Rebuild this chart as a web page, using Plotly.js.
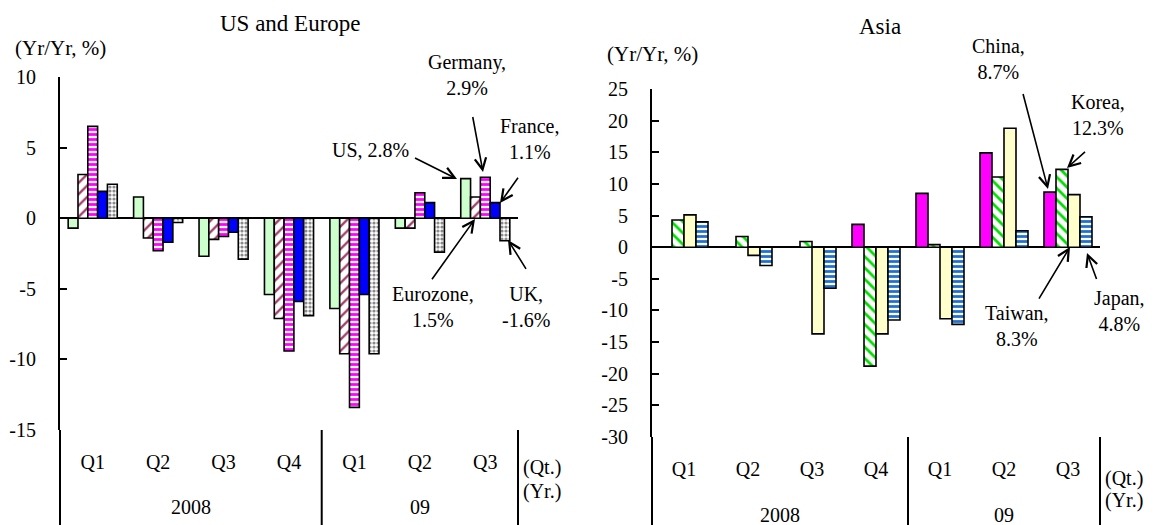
<!DOCTYPE html>
<html>
<head>
<meta charset="utf-8">
<script src="https://cdn.plot.ly/plotly-3.0.1.min.js"></script>
<style>html,body{margin:0;padding:0;background:#fff;}#chart{width:1155px;height:525px;}</style>
</head>
<body>
<div id="chart"></div>
<script>
// ---- data ----
const quarters = ['Q1','Q2','Q3','Q4','Q1','Q2','Q3'];
const years = ['2008','09'];
const us       = [-0.7, 1.5, -2.7, -5.4, -6.4, -0.7, 2.8];
const eurozone = [3.1, -1.4, -1.5, -7.1, -9.6, -0.7, 1.5];
const germany  = [6.5, -2.3, -1.3, -9.4, -13.4, 1.8, 2.9];
const france   = [1.9, -1.7, -1.0, -5.9, -5.4, 1.1, 1.1];
const uk       = [2.4, -0.3, -2.9, -6.9, -9.6, -2.4, -1.6];
const china  = [null, null, null, 3.6, 8.5, 14.9, 8.7];
const korea  = [4.3, 1.7, 0.9, -18.8, 0.4, 11.1, 12.3];
const taiwan = [5.1, -1.3, -13.7, -13.7, -11.3, 18.8, 8.3];
const japan  = [4.0, -2.9, -6.5, -11.5, -12.2, 2.6, 4.8];
const leftTicks = [10, 5, 0, -5, -10, -15];
const leftTickText = ['10', '5', '0', '-5', '-10', '-15'];
const rightTicks = [25, 20, 15, 10, 5, 0, -5, -10, -15, -20, -25, -30];
const rightTickText = ['25', '20', '15', '10', '5', '0', '-5', '-10', '-15', '-20', '-25', '-30'];
const callLeft = [
  {text: 'Germany,<br>2.9%', tx: 467, ty: 75, tip: [483, 172], tail: [472, 113]},
  {text: 'US, 2.8%', tx: 370, ty: 150, tip: [457, 179], tail: [413, 157]},
  {text: 'France,<br>1.1%', tx: 529, ty: 139, tip: [500, 203], tail: [520, 175]},
  {text: 'Eurozone,<br>1.5%', tx: 433, ty: 307, tip: [475, 219], tail: [430, 282]},
  {text: 'UK,<br>-1.6%', tx: 526, ty: 307, tip: [508, 240], tail: [528, 272]}
];
const callRight = [
  {text: 'China,<br>8.7%', tx: 998, ty: 59, tip: [1048, 189], tail: [1022, 90]},
  {text: 'Korea,<br>12.3%', tx: 1098, ty: 115, tip: [1067, 168], tail: [1087, 150]},
  {text: 'Taiwan,<br>8.3%', tx: 1017, ty: 326, tip: [1070, 247], tail: [1037, 302]},
  {text: 'Japan,<br>4.8%', tx: 1119, ty: 311, tip: [1087, 253], tail: [1098, 283]}
];

// ---- layout helpers ----
const W = 1155, H = 525;
const FONT = 'Liberation Serif';
const px = v => v / W;
const py = v => 1 - v / H;
const xs = quarters.map((_, i) => i);
const L = {x0: 60, x1: 518, yTop: 77, yBot: 430};
const R = {x0: 652, x1: 1100, yTop: 89, yBot: 437};

function bar(name, vals, xa, ya, color, pattern) {
  const marker = {color: color, line: {color: '#000', width: 1.6}};
  if (pattern) marker.pattern = pattern;
  return {type: 'bar', name: name, x: xs, y: vals, xaxis: xa, yaxis: ya, marker: marker, showlegend: false, hoverinfo: 'skip'};
}

const data = [
  bar('US', us, 'x', 'y', '#ccffcc'),
  bar('Eurozone', eurozone, 'x', 'y', '#ffffff', {shape: '/', fgcolor: '#a0406a', bgcolor: '#ffffff', size: 8, solidity: 0.3}),
  bar('Germany', germany, 'x', 'y', '#ffffff', {shape: '-', fgcolor: '#ff00ff', bgcolor: '#ffffff', size: 5, solidity: 0.55}),
  bar('France', france, 'x', 'y', '#0000ff'),
  bar('UK', uk, 'x', 'y', '#ffffff', {shape: '.', fgcolor: '#8a8a8a', bgcolor: '#ffffff', size: 4, solidity: 0.5}),
  bar('China', china, 'x2', 'y2', '#ff00ff'),
  bar('Korea', korea, 'x2', 'y2', '#ffffff', {shape: '\\', fgcolor: '#00e000', bgcolor: '#ffffff', size: 8, solidity: 0.35}),
  bar('Taiwan', taiwan, 'x2', 'y2', '#ffffcc'),
  bar('Japan', japan, 'x2', 'y2', '#ffffff', {shape: '-', fgcolor: '#1f6fd0', bgcolor: '#ffffff', size: 5, solidity: 0.55})
];

function xaxis(P) {
  return {domain: [px(P.x0), px(P.x1)], range: [-0.5, 6.5], tickvals: xs, ticktext: quarters,
    showline: false, showgrid: false, zeroline: false, ticks: '', ticklabelstandoff: 18,
    tickfont: {family: FONT, size: 20, color: '#000'}, fixedrange: true};
}
function yaxis(P, ticks, text, xa) {
  return {domain: [py(P.yBot), py(P.yTop)], range: [ticks[ticks.length - 1], ticks[0]], anchor: xa,
    tickvals: ticks, ticktext: text, showline: true, linecolor: '#000', linewidth: 2,
    ticks: 'inside', ticklen: 7, tickwidth: 2, tickcolor: '#000', showgrid: false,
    zeroline: true, zerolinecolor: '#000', zerolinewidth: 2, ticklabelstandoff: 18,
    tickfont: {family: FONT, size: 20, color: '#000'}, fixedrange: true};
}

const shapes = [];
[L, R].forEach(P => {
  const cat = c => px(P.x0 + (c + 0.5) / 7 * (P.x1 - P.x0));
  [[px(P.x0)], [cat(3.5)], [cat(6.5)]].forEach(([x]) => {
    shapes.push({type: 'line', xref: 'paper', yref: 'paper', x0: x, x1: x, y0: py(P.yBot), y1: 0, line: {color: '#000', width: 2}});
  });
});

const annotations = [];
function txt(text, x, y, size, anchor) {
  annotations.push({text: text, xref: 'paper', yref: 'paper', x: px(x), y: py(y), xanchor: anchor || 'center', yanchor: 'middle', showarrow: false, font: {family: FONT, size: size, color: '#000'}});
}
txt('US and Europe', 290, 23, 23);
txt('Asia', 880, 26, 23);
txt('(Yr/Yr, %)', 60, 48, 21);
txt('(Yr/Yr, %)', 652, 54, 21);
[[L, 463, 491, 507], [R, 474, 500, 515]].forEach(([P, qy, yy, ylab]) => {
  const cx = c => P.x0 + (c + 0.5) / 7 * (P.x1 - P.x0);
  txt(years[0], cx(1.5), ylab, 20);
  txt(years[1], cx(5), ylab, 20);
  txt('(Qt.)', P.x1 + 3, qy + 4, 20, 'left');
  txt('(Yr.)', P.x1 + 3, yy, 20, 'left');
});
callLeft.concat(callRight).forEach(c => {
  txt(c.text, c.tx, c.ty, 20);
  annotations.push({text: ' ', xref: 'paper', yref: 'paper', x: px(c.tip[0]), y: py(c.tip[1]),
    ax: c.tail[0] - c.tip[0], ay: c.tail[1] - c.tip[1], showarrow: true, arrowhead: 5, arrowsize: 1.4,
    arrowwidth: 1.6, arrowcolor: '#000', standoff: 0, startstandoff: 0, font: {size: 4}});
});

const layout = {
  width: W, height: H, margin: {l: 0, r: 0, t: 0, b: 0},
  paper_bgcolor: '#fff', plot_bgcolor: 'rgba(0,0,0,0)',
  barmode: 'group', bargap: 0.25, bargroupgap: 0,
  xaxis: xaxis(L), yaxis: yaxis(L, leftTicks, leftTickText, 'x'),
  xaxis2: Object.assign(xaxis(R), {anchor: 'y2'}), yaxis2: yaxis(R, rightTicks, rightTickText, 'x2'),
  shapes: shapes, annotations: annotations, font: {family: FONT, color: '#000'}
};
layout.xaxis.anchor = 'y';
Plotly.newPlot('chart', data, layout, {staticPlot: true});
</script>
</body>
</html>
